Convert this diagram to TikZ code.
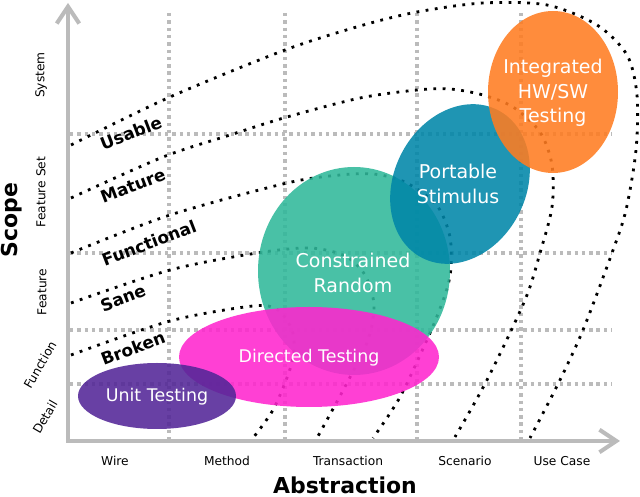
\documentclass[tikz,border=0pt]{standalone}
\usepackage{fontspec}
\setmainfont{DejaVu Sans}
\usepackage{tikz}
\usetikzlibrary{arrows.meta}

\definecolor{axisgray}{RGB}{187,187,187}
\definecolor{unitpurple}{RGB}{83,38,151}
\definecolor{dirpink}{RGB}{255,38,206}
\definecolor{crteal}{RGB}{48,184,154}
\definecolor{psblue}{RGB}{0,134,168}
\definecolor{hwsworange}{RGB}{255,124,33}

\begin{document}
\begin{tikzpicture}[x=0.025cm, y=-0.025cm,
    gridline/.style={axisgray, line width=2.2pt, dash pattern=on 2.4pt off 2.8pt},
    levelline/.style={black, line width=2pt, dash pattern=on 2pt off 4.6pt},
    levelname/.style={font=\bfseries\fontsize{12}{14}\selectfont, rotate=21},
    tick/.style={font=\fontsize{8.7}{10}\selectfont},
    blob/.style={fill opacity=0.88},
    blobtext/.style={text=white, align=center, font=\fontsize{13.5}{17.4}\selectfont}]
    \useasboundingbox (0,0) rectangle (640,497);

    % grille en pointillés
    \foreach \gx in {169,285,417,521}
        \draw[gridline] (\gx,13) -- (\gx,439);
    \foreach \gy in {134,253,330,384}
        \draw[gridline] (70,\gy) -- (612,\gy);

    % axes
    \draw[axisgray, line width=2.9pt,
        {Straight Barb[length=12pt, width=16pt]}-{Straight Barb[length=12pt, width=16pt]}]
        (68,3) -- (68,441) -- (620,441);

    % niveaux de qualité
    \draw[levelline] plot[smooth] coordinates {(71,145) (170,97) (285,50) (360,26) (417,12)
        (483,3) (547,5) (597,25) (627,55) (637,95) (636,150) (626,210) (612,253)
        (583,330) (558,384) (530,438)};
    \draw[levelline] plot[smooth] coordinates {(71,198) (163,157) (230,135) (287,117)
        (360,98) (417,90) (450,89) (483,95) (513,107) (540,132) (552,165) (552,207)
        (540,253) (525,300) (487,380) (455,437)};
    \draw[levelline] plot[smooth] coordinates {(71,253) (170,215) (287,183) (340,175)
        (373,174) (400,180) (423,193) (440,210) (450,237) (451,267) (446,292)
        (430,333) (400,397) (373,438)};
    \draw[levelline] plot[smooth] coordinates {(71,303) (170,270) (257,253) (310,248)
        (345,256) (365,275) (374,305) (368,340) (347,383) (317,438)};
    \draw[levelline] plot[smooth] coordinates {(71,355) (170,321) (253,306) (278,310)
        (292,330) (294,352) (288,375) (273,410) (253,438)};

    \node[levelname] (usable) at (131,133) {Usable};
    \node[levelname] (mature) at (133,186) {Mature};
    \node[levelname] (functional) at (149,243) {Functional};
    \node[levelname] (sane) at (123,298) {Sane};
    \node[levelname] (broken) at (133,348) {Broken};

    % ellipses des méthodes
    \fill[crteal, blob] (354,271) ellipse [x radius=96, y radius=104];
    \fill[dirpink, blob] (309,357) ellipse [x radius=130, y radius=50];
    \fill[unitpurple, blob] (157,396) ellipse [x radius=79, y radius=33];
    \fill[psblue, blob, rotate around={-27:(460,184)}] (460,184) ellipse [x radius=66, y radius=83];
    \fill[hwsworange, blob] (553,92) ellipse [x radius=65, y radius=81];

    \node[blobtext] (unit) at (157,397) {\fontsize{12.4}{15}\selectfont Unit Testing};
    \node[blobtext] (directed) at (309,358) {\fontsize{12.4}{15}\selectfont Directed Testing};
    \node[blobtext] (constrained) at (353,273) {Constrained\\Random};
    \node[blobtext] (portable) at (458,184) {Portable\\Stimulus};
    \node[blobtext] (integrated) at (553,93) {Integrated\\HW/SW\\Testing};

    % graduations
    \node[tick] (wire) at (115,461) {Wire};
    \node[tick] (method) at (227,461) {Method};
    \node[tick] (transaction) at (348,461) {Transaction};
    \node[tick] (scenario) at (465,461) {Scenario};
    \node[tick] (usecase) at (562,461) {Use Case};
    \node[tick, rotate=90] (system) at (41,75) {System};
    \node[tick, rotate=90] (featureset) at (41,192) {Feature Set};
    \node[tick, rotate=90] (feature) at (42,292) {Feature};
    \node[tick, rotate=60] (function) at (40,365) {Function};
    \node[tick, rotate=60] (detail) at (45,417) {Detail};

    % titres des axes
    \node[font=\bfseries\fontsize{15.6}{18}\selectfont] (abstraction) at (345,485) {Abstraction};
    \node[font=\bfseries\fontsize{15.6}{18}\selectfont, rotate=90] (scope) at (12,220) {Scope};
\end{tikzpicture}
\end{document}
